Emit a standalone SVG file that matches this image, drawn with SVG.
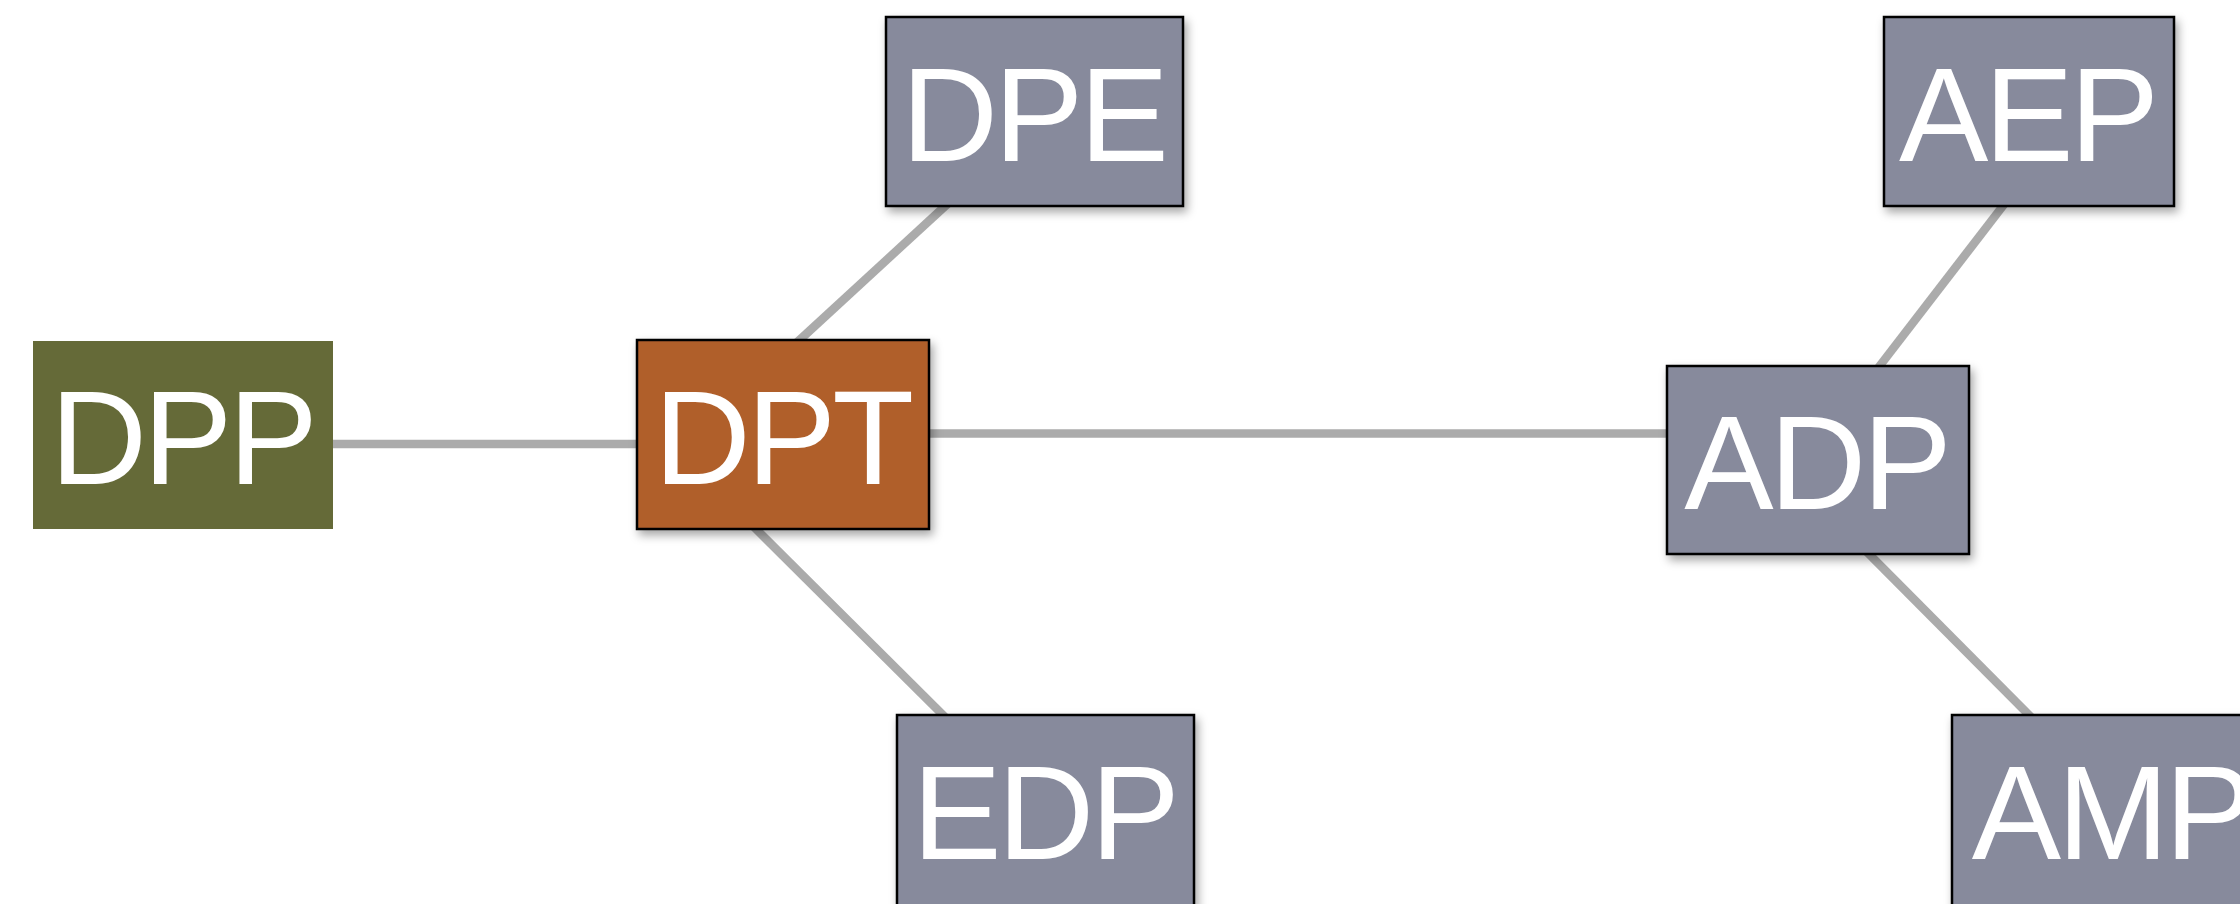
<svg xmlns="http://www.w3.org/2000/svg" width="2240" height="904" viewBox="0 0 2240 904">
<defs>
<filter id="sh" x="-10%" y="-10%" width="125%" height="130%">
<feDropShadow dx="3" dy="5" stdDeviation="5" flood-color="#000" flood-opacity="0.35"/>
</filter>
<style>
.edge{stroke:#ABABAB;stroke-width:8.5;fill:none}
.box{stroke:#000;stroke-width:2.5;filter:url(#sh)}
.grey{fill:#878A9C}
.lbl{font-family:"Liberation Sans",Arial,Helvetica,sans-serif;font-size:134px;letter-spacing:-4px;fill:#fff;text-anchor:middle}
</style>
</defs>
<rect width="2240" height="904" fill="#fff"/>
<g id="connectors">
<line class="edge" x1="320" y1="444" x2="650" y2="444"/>
<line class="edge" x1="920" y1="433.5" x2="1680" y2="433.5"/>
<line class="edge" x1="792" y1="347" x2="955" y2="197"/>
<line class="edge" x1="749" y1="522" x2="950" y2="722"/>
<line class="edge" x1="1875" y1="372" x2="2009" y2="198"/>
<line class="edge" x1="1860" y1="545" x2="2037" y2="723"/>
</g>
<g id="DPP">
<rect x="33" y="341" width="300" height="188" fill="#656A38"/>
<text class="lbl" x="182" y="484">DPP</text>
</g>
<g id="DPT">
<rect class="box" x="637" y="340" width="292" height="189" fill="#B05E2B"/>
<text class="lbl" x="782" y="484">DPT</text>
</g>
<g id="DPE">
<rect class="box grey" x="886" y="17" width="297" height="189"/>
<text class="lbl" x="1033" y="161">DPE</text>
</g>
<g id="EDP">
<rect class="box grey" x="897" y="715" width="297" height="200"/>
<text class="lbl" x="1044" y="859">EDP</text>
</g>
<g id="ADP">
<rect class="box grey" x="1667" y="366" width="302" height="188"/>
<text class="lbl" x="1816" y="509">ADP</text>
</g>
<g id="AEP">
<rect class="box grey" x="1884" y="17" width="290" height="189"/>
<text class="lbl" x="2027" y="161">AEP</text>
</g>
<g id="AMP">
<rect class="box grey" x="1952" y="715" width="330" height="200"/>
<text class="lbl" x="2111" y="859">AMP</text>
</g>
</svg>
